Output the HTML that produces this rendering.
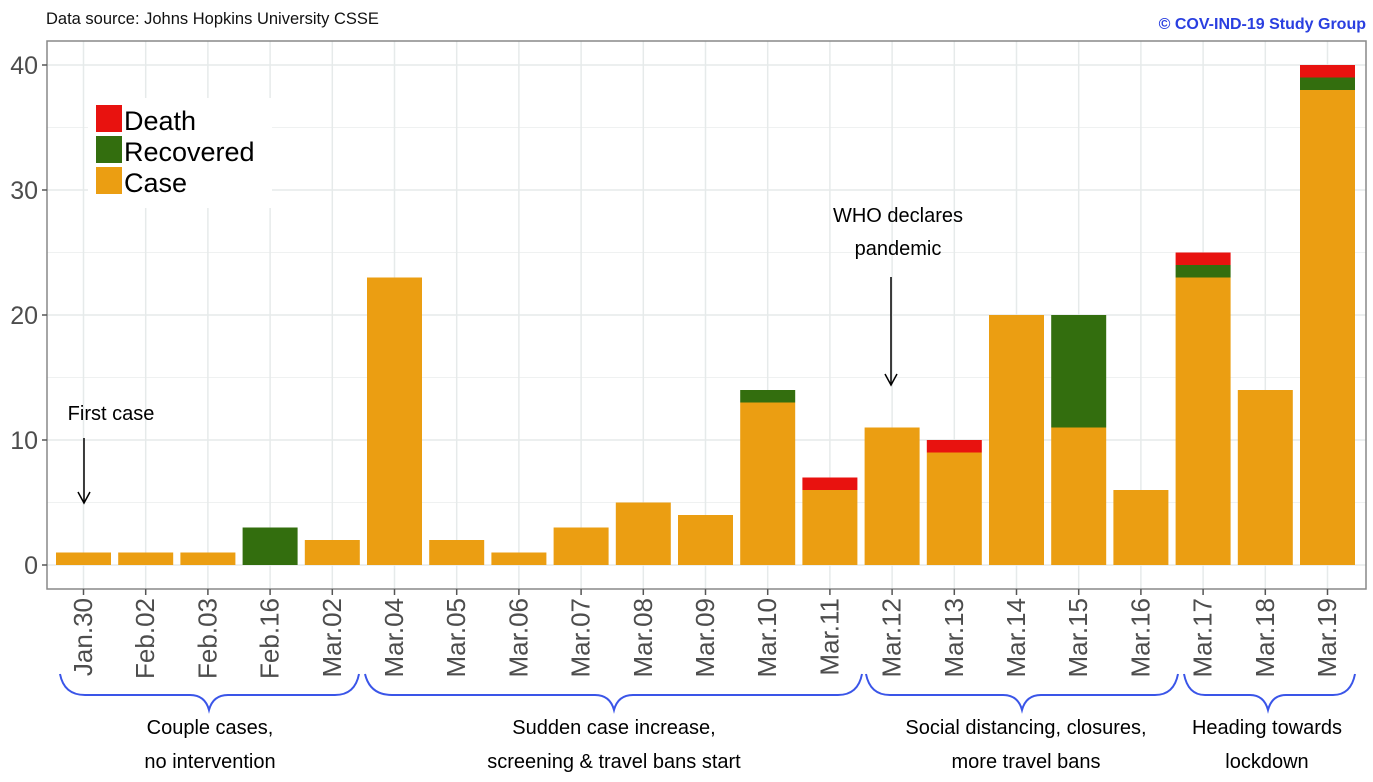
<!DOCTYPE html><html><head><meta charset="utf-8"><style>body{margin:0;background:#fff}svg{display:block}text{font-family:"Liberation Sans",sans-serif}</style></head><body>
<svg width="1373" height="782" viewBox="0 0 1373 782">
<text x="46" y="24" font-size="16.5" fill="#111">Data source: Johns Hopkins University CSSE</text>
<text x="1366" y="29" font-size="16" font-weight="bold" fill="#2a3fe0" text-anchor="end">© COV-IND-19 Study Group</text>
<g stroke="#eff1f1" stroke-width="1">
<line x1="47" x2="1366" y1="502.5" y2="502.5"/><line x1="47" x2="1366" y1="377.5" y2="377.5"/><line x1="47" x2="1366" y1="252.5" y2="252.5"/><line x1="47" x2="1366" y1="127.5" y2="127.5"/>
</g>
<g stroke="#e6eaea" stroke-width="1.5">
<line x1="47" x2="1366" y1="565" y2="565"/><line x1="47" x2="1366" y1="440" y2="440"/><line x1="47" x2="1366" y1="315" y2="315"/><line x1="47" x2="1366" y1="190" y2="190"/><line x1="47" x2="1366" y1="65" y2="65"/>
<line x1="83.5" x2="83.5" y1="41" y2="589"/><line x1="145.7" x2="145.7" y1="41" y2="589"/><line x1="207.9" x2="207.9" y1="41" y2="589"/><line x1="270.1" x2="270.1" y1="41" y2="589"/><line x1="332.3" x2="332.3" y1="41" y2="589"/><line x1="394.5" x2="394.5" y1="41" y2="589"/><line x1="456.7" x2="456.7" y1="41" y2="589"/><line x1="518.9" x2="518.9" y1="41" y2="589"/><line x1="581.1" x2="581.1" y1="41" y2="589"/><line x1="643.3" x2="643.3" y1="41" y2="589"/><line x1="705.5" x2="705.5" y1="41" y2="589"/><line x1="767.7" x2="767.7" y1="41" y2="589"/><line x1="829.9" x2="829.9" y1="41" y2="589"/><line x1="892.1" x2="892.1" y1="41" y2="589"/><line x1="954.3" x2="954.3" y1="41" y2="589"/><line x1="1016.5" x2="1016.5" y1="41" y2="589"/><line x1="1078.7" x2="1078.7" y1="41" y2="589"/><line x1="1140.9" x2="1140.9" y1="41" y2="589"/><line x1="1203.1" x2="1203.1" y1="41" y2="589"/><line x1="1265.3" x2="1265.3" y1="41" y2="589"/><line x1="1327.5" x2="1327.5" y1="41" y2="589"/>
</g>
<g fill="#EB9E12">
<rect x="56" y="552.5" width="55" height="12.5"/><rect x="118.2" y="552.5" width="55" height="12.5"/><rect x="180.4" y="552.5" width="55" height="12.5"/>
<rect x="304.8" y="540" width="55" height="25"/><rect x="367" y="277.5" width="55" height="287.5"/><rect x="429.2" y="540" width="55" height="25"/><rect x="491.4" y="552.5" width="55" height="12.5"/><rect x="553.6" y="527.5" width="55" height="37.5"/><rect x="615.8" y="502.5" width="55" height="62.5"/><rect x="678" y="515" width="55" height="50"/><rect x="740.2" y="402.5" width="55" height="162.5"/><rect x="802.4" y="490" width="55" height="75"/><rect x="864.6" y="427.5" width="55" height="137.5"/><rect x="926.8" y="452.5" width="55" height="112.5"/><rect x="989" y="315" width="55" height="250"/><rect x="1051.2" y="427.5" width="55" height="137.5"/><rect x="1113.4" y="490" width="55" height="75"/><rect x="1175.6" y="277.5" width="55" height="287.5"/><rect x="1237.8" y="390" width="55" height="175"/><rect x="1300" y="90" width="55" height="475"/>
</g>
<g fill="#336E0E">
<rect x="242.6" y="527.5" width="55" height="37.5"/><rect x="740.2" y="390" width="55" height="12.5"/><rect x="1051.2" y="315" width="55" height="112.5"/><rect x="1175.6" y="265" width="55" height="12.5"/><rect x="1300" y="77.5" width="55" height="12.5"/>
</g>
<g fill="#E8120F">
<rect x="802.4" y="477.5" width="55" height="12.5"/><rect x="926.8" y="440" width="55" height="12.5"/><rect x="1175.6" y="252.5" width="55" height="12.5"/><rect x="1300" y="65" width="55" height="12.5"/>
</g>
<rect x="47" y="41" width="1319" height="548" fill="none" stroke="#888" stroke-width="1.5"/>
<g stroke="#555" stroke-width="1.5"><line x1="42" x2="47" y1="565" y2="565"/><line x1="42" x2="47" y1="440" y2="440"/><line x1="42" x2="47" y1="315" y2="315"/><line x1="42" x2="47" y1="190" y2="190"/><line x1="42" x2="47" y1="65" y2="65"/></g>
<g font-size="25" fill="#4d4d4d" text-anchor="end"><text x="38" y="574">0</text><text x="38" y="449">10</text><text x="38" y="324">20</text><text x="38" y="199">30</text><text x="38" y="74">40</text></g>
<rect x="88" y="98" width="184" height="110" fill="#fff"/>
<rect x="96" y="105" width="26" height="27" fill="#E8120F"/><rect x="96" y="136" width="26" height="27" fill="#336E0E"/><rect x="96" y="167" width="26" height="27" fill="#EB9E12"/>
<g font-size="27" fill="#000"><text x="124" y="130">Death</text><text x="124" y="161">Recovered</text><text x="124" y="192">Case</text></g>
<g font-size="26" fill="#4d4d4d" text-anchor="end">
<text transform="translate(92,598) rotate(-90)">Jan.30</text><text transform="translate(154.2,598) rotate(-90)">Feb.02</text><text transform="translate(216.4,598) rotate(-90)">Feb.03</text><text transform="translate(278.6,598) rotate(-90)">Feb.16</text><text transform="translate(340.8,598) rotate(-90)">Mar.02</text><text transform="translate(403,598) rotate(-90)">Mar.04</text><text transform="translate(465.2,598) rotate(-90)">Mar.05</text><text transform="translate(527.4,598) rotate(-90)">Mar.06</text><text transform="translate(589.6,598) rotate(-90)">Mar.07</text><text transform="translate(651.8,598) rotate(-90)">Mar.08</text><text transform="translate(714,598) rotate(-90)">Mar.09</text><text transform="translate(776.2,598) rotate(-90)">Mar.10</text><text transform="translate(838.4,598) rotate(-90)">Mar.11</text><text transform="translate(900.6,598) rotate(-90)">Mar.12</text><text transform="translate(962.8,598) rotate(-90)">Mar.13</text><text transform="translate(1025,598) rotate(-90)">Mar.14</text><text transform="translate(1087.2,598) rotate(-90)">Mar.15</text><text transform="translate(1149.4,598) rotate(-90)">Mar.16</text><text transform="translate(1211.6,598) rotate(-90)">Mar.17</text><text transform="translate(1273.8,598) rotate(-90)">Mar.18</text><text transform="translate(1336,598) rotate(-90)">Mar.19</text>
</g>
<g stroke="#555" stroke-width="1.5"><line x1="83.5" x2="83.5" y1="589" y2="595"/><line x1="145.7" x2="145.7" y1="589" y2="595"/><line x1="207.9" x2="207.9" y1="589" y2="595"/><line x1="270.1" x2="270.1" y1="589" y2="595"/><line x1="332.3" x2="332.3" y1="589" y2="595"/><line x1="394.5" x2="394.5" y1="589" y2="595"/><line x1="456.7" x2="456.7" y1="589" y2="595"/><line x1="518.9" x2="518.9" y1="589" y2="595"/><line x1="581.1" x2="581.1" y1="589" y2="595"/><line x1="643.3" x2="643.3" y1="589" y2="595"/><line x1="705.5" x2="705.5" y1="589" y2="595"/><line x1="767.7" x2="767.7" y1="589" y2="595"/><line x1="829.9" x2="829.9" y1="589" y2="595"/><line x1="892.1" x2="892.1" y1="589" y2="595"/><line x1="954.3" x2="954.3" y1="589" y2="595"/><line x1="1016.5" x2="1016.5" y1="589" y2="595"/><line x1="1078.7" x2="1078.7" y1="589" y2="595"/><line x1="1140.9" x2="1140.9" y1="589" y2="595"/><line x1="1203.1" x2="1203.1" y1="589" y2="595"/><line x1="1265.3" x2="1265.3" y1="589" y2="595"/><line x1="1327.5" x2="1327.5" y1="589" y2="595"/></g>
<g fill="none" stroke="#3a55e8" stroke-width="2">
<path d="M60,674 Q64,695 85,695 L190,695 Q205,695 209,710 Q213,695 228,695 L335,695 Q355,695 359,674"/>
<path d="M365,674 Q370,695 392,695 L595,695 Q610,695 614,710 Q618,695 633,695 L838,695 Q858,695 862,674"/>
<path d="M866,674 Q870,695 890,695 L1003,695 Q1018,695 1022,710 Q1026,695 1041,695 L1155,695 Q1174,695 1178,674"/>
<path d="M1184,674 Q1188,695 1205,695 L1250,695 Q1264,695 1268,710 Q1272,695 1286,695 L1333,695 Q1351,695 1355,674"/>
</g>
<g font-size="20" fill="#000" text-anchor="middle">
<text x="210" y="734">Couple cases,</text><text x="210" y="768">no intervention</text>
<text x="614" y="734">Sudden case increase,</text><text x="614" y="768">screening &amp; travel bans start</text>
<text x="1026" y="734">Social distancing, closures,</text><text x="1026" y="768">more travel bans</text>
<text x="1267" y="734">Heading towards</text><text x="1267" y="768">lockdown</text>
<text x="111" y="420">First case</text>
<text x="898" y="222">WHO declares</text><text x="898" y="255">pandemic</text>
</g>
<g stroke="#000" stroke-width="1.5" fill="none">
<line x1="84" y1="438" x2="84" y2="502"/><path d="M78,492 L84,503 L90,492"/>
<line x1="891" y1="277" x2="891" y2="384"/><path d="M885,374 L891,385 L897,374"/>
</g>
</svg>
</body></html>
